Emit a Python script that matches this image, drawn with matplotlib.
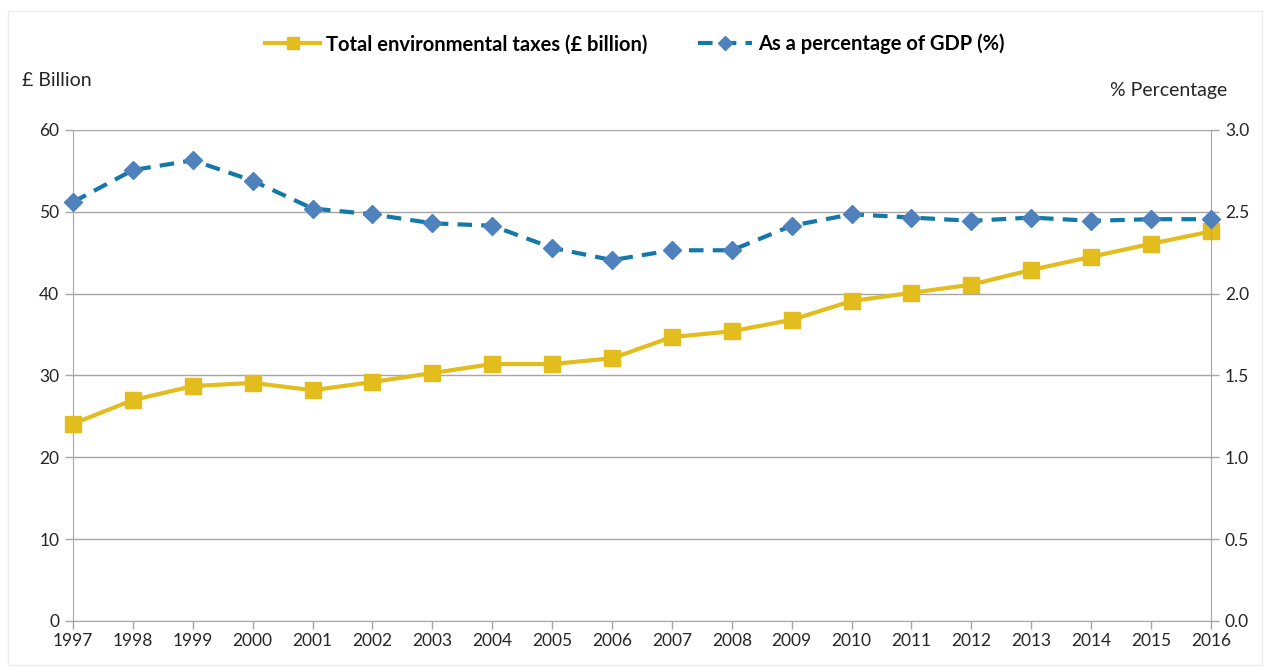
import matplotlib.pyplot as plt
from matplotlib.patches import Rectangle

plt.rcParams['font.family'] = ['Lato', 'DejaVu Sans']

years = list(range(1997, 2017))
taxes_bn = [24.1, 27.0, 28.7, 29.1, 28.2, 29.2, 30.3, 31.4, 31.4, 32.1,
            34.7, 35.4, 36.8, 39.1, 40.1, 41.1, 42.9, 44.5, 46.1, 47.6]
pct_gdp = [2.56, 2.755, 2.815, 2.69, 2.52, 2.485, 2.43, 2.415, 2.28, 2.205,
           2.265, 2.265, 2.415, 2.485, 2.465, 2.445, 2.465, 2.445, 2.455, 2.455]

left_ticks = [0, 10, 20, 30, 40, 50, 60]
right_ticks = [0.0, 0.5, 1.0, 1.5, 2.0, 2.5, 3.0]

yellow = '#E3BC1E'
blue_line = '#1478A8'
blue_mark = '#4F81BD'
grid_c = '#A6A6A6'
text_c = '#262626'

fig = plt.figure(figsize=(12.7, 6.68), dpi=100)
fig.patches.append(Rectangle((0.006, 0.004), 0.988, 0.98, transform=fig.transFigure,
                             fill=False, edgecolor='#EDEDED', linewidth=1))
ax = fig.add_axes([0.0575, 0.0704, 0.896, 0.735])
ax2 = ax.twinx()

l1, = ax.plot(years, taxes_bn, color=yellow, lw=3, marker='s', ms=11.5,
              markeredgecolor=yellow, label='Total environmental taxes (£ billion)',
              zorder=3, clip_on=False)
l2, = ax2.plot(years, pct_gdp, color=blue_line, lw=3, ls=(0, (3.5, 2.2)), marker='D', ms=9,
               markerfacecolor=blue_mark, markeredgecolor=blue_mark,
               label='As a percentage of GDP (%)', zorder=3, clip_on=False)

ax.set_xlim(1997, 2016)
ax.set_ylim(0, 60)
ax2.set_ylim(0, 3.0)
ax.set_xticks(years)
ax.set_xticklabels([str(y) for y in years])
ax.set_yticks(left_ticks)
ax2.set_yticks(right_ticks)
ax2.set_yticklabels([f'{v:.1f}' for v in right_ticks])

ax.grid(axis='y', color=grid_c, lw=1)
ax.set_axisbelow(True)
for a in (ax, ax2):
    for s in a.spines.values():
        s.set_visible(False)
    a.tick_params(colors=grid_c, labelcolor=text_c, labelsize=12.5, length=6, width=1)
ax.spines['left'].set_visible(True)
ax.spines['left'].set_color(grid_c)
ax.spines['bottom'].set_visible(True)
ax.spines['bottom'].set_color(grid_c)
ax2.spines['right'].set_visible(True)
ax2.spines['right'].set_color(grid_c)
ax.tick_params(axis='x', pad=3)
ax.tick_params(axis='y', pad=4)
ax2.tick_params(axis='y', pad=4)

fig.text(0.017, 0.88, '£ Billion', fontsize=14, color=text_c, va='center')
fig.text(0.966, 0.865, '% Percentage', fontsize=14, color=text_c, va='center', ha='right')

fig.legend(handles=[l1, l2], loc='center', bbox_to_anchor=(0.5, 0.934), ncol=2,
           frameon=False, prop={'weight': 'bold', 'size': 14.5}, handlelength=2.7,
           columnspacing=2.5, handletextpad=0.3, labelcolor='#000000', markerscale=0.75)

fig.savefig('out.png', dpi=100)
